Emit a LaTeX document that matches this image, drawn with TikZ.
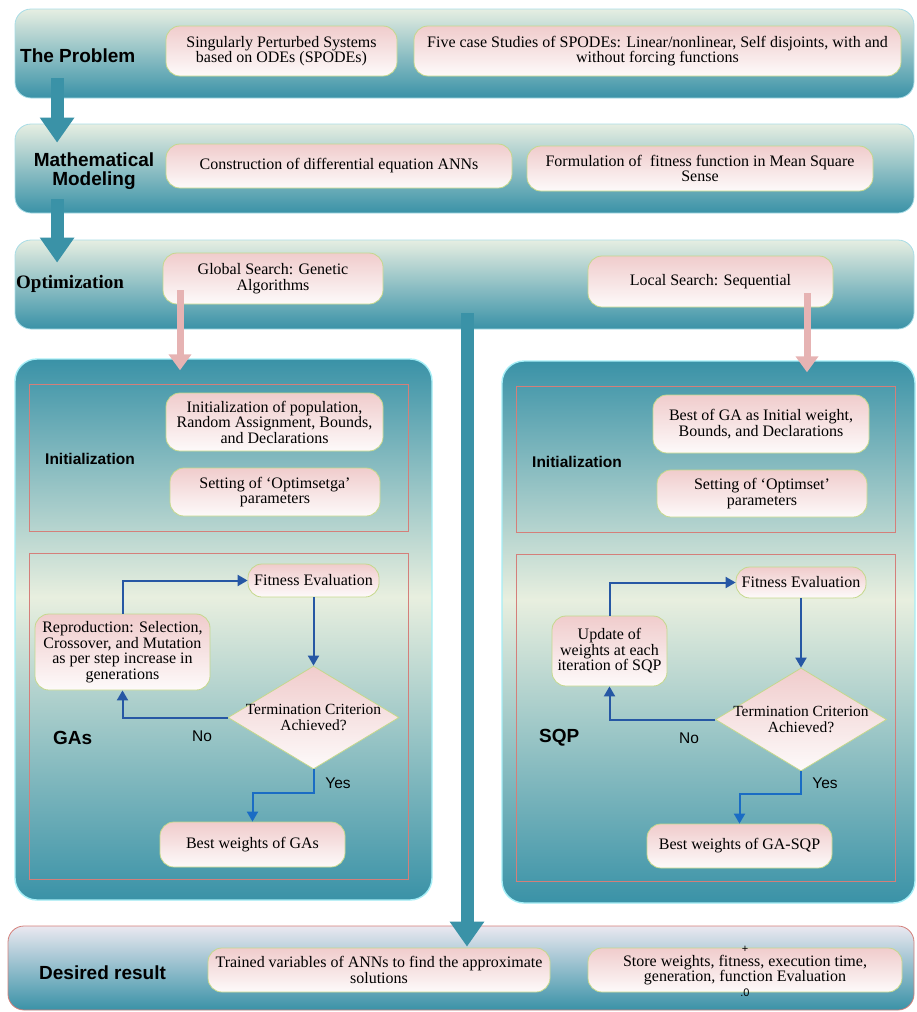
\documentclass[tikz,border=0pt]{standalone}
\usepackage{fontspec}
\setmainfont{Liberation Serif}
\setsansfont{Liberation Sans}
\usetikzlibrary{shapes.geometric,arrows.meta}

\definecolor{bandtop}{HTML}{E6EEE2}
\definecolor{tealband}{HTML}{3A92A7}
\definecolor{bandline}{HTML}{A8DCE6}
\definecolor{panelline}{HTML}{A6EEF6}
\definecolor{paleband}{HTML}{E8EFDF}
\definecolor{lavtop}{HTML}{EAE8F0}
\definecolor{pinktop}{HTML}{F0CCCC}
\definecolor{pinkbot}{HTML}{FDFAFA}
\definecolor{boxline}{HTML}{C5D88C}
\definecolor{redline}{HTML}{D47F7A}
\definecolor{loopblue}{HTML}{2657A4}
\definecolor{yesblue}{HTML}{1A6CC4}
\definecolor{pinkarrow}{HTML}{E6B3B3}

\pgfdeclareverticalshading{panelshade}{100bp}{color(0bp)=(tealband); color(25bp)=(tealband); color(53bp)=(paleband); color(75bp)=(tealband); color(100bp)=(tealband)}

\newcommand{\boxfont}{\fontsize{16}{15.5}\selectfont}
\newcommand{\testfont}{\fontsize{15.5}{15.5}\selectfont}
\newcommand{\headfont}{\sffamily\bfseries\fontsize{19}{19}\selectfont}
\newcommand{\subfont}{\sffamily\bfseries\fontsize{15.5}{16}\selectfont}
\newcommand{\yesnofont}{\sffamily\fontsize{15.5}{16}\selectfont}

\begin{document}
\begin{tikzpicture}[
    x=1pt, y=-1pt,
    band/.style={rectangle, rounded corners=16pt, draw=bandline, line width=0.8pt, top color=bandtop, bottom color=tealband},
    result/.style={band, draw=redline, top color=lavtop},
    panel/.style={rectangle, rounded corners=22pt, draw=panelline, line width=1.4pt, shading=panelshade},
    stage/.style={rectangle, draw=redline, line width=0.8pt},
    box/.style={rectangle, rounded corners=14pt, draw=boxline, line width=0.8pt, top color=pinktop, bottom color=pinkbot, align=center, inner sep=2pt, font=\boxfont},
    test/.style={diamond, draw=boxline, line width=0.8pt, top color=pinktop, bottom color=pinkbot, inner sep=0pt, minimum width=171pt, minimum height=103pt},
    testtext/.style={align=center, inner sep=0pt, font=\testfont},
    head/.style={align=center, inner sep=0pt, font=\headfont},
    sub/.style={inner sep=0pt, font=\subfont},
    yesno/.style={inner sep=0pt, font=\yesnofont},
    bigarrow/.style={-{Triangle[width=33pt,length=25pt]}, line width=13pt, draw=tealband},
    droparrow/.style={-{Triangle[width=22pt,length=16pt]}, line width=7pt, draw=pinkarrow},
    loop/.style={-{Triangle[width=11pt,length=10pt]}, line width=2pt, draw=loopblue},
    yes/.style={loop, draw=yesblue}
]
    \useasboundingbox (0,0) rectangle (916,1012);

    \node[band, minimum width=899pt, minimum height=89pt] (prob) at (464.5,53.5) {};
    \node[band, minimum width=899pt, minimum height=89pt] (model) at (464.5,168.5) {};
    \node[band, minimum width=899pt, minimum height=89pt] (optim) at (464.5,284.5) {};
    \node[result, minimum width=906pt, minimum height=84pt] (res) at (461,968) {};

    \node[head, anchor=west] (probl) at (20,56) {The Problem};
    \node[head] (modell) at (94,171) {Mathematical\\Modeling};
    \node[head, anchor=west, font=\rmfamily\bfseries\fontsize{19}{19}\selectfont] (optiml) at (16,284) {Optimization};
    \node[head, anchor=west] (resl) at (39,973) {Desired result};

    \node[box, minimum width=231pt, minimum height=50pt] (spodes) at (281.5,51) {Singularly Perturbed Systems\\based on ODEs (SPODEs)};
    \node[box, minimum width=487pt, minimum height=50pt] (cases) at (657.5,51) {Five case Studies of SPODEs: Linear/nonlinear, Self disjoints, with and\\without forcing functions};
    \node[box, minimum width=346pt, minimum height=44pt] (constr) at (339,166) {Construction of differential equation ANNs};
    \node[box, minimum width=346pt, minimum height=45pt] (fitfun) at (700,168.5) {Formulation of \ fitness function in Mean Square\\Sense};
    \node[box, minimum width=220pt, minimum height=51pt] (glob) at (273,278.5) {Global Search: Genetic\\Algorithms};
    \node[box, minimum width=245pt, minimum height=51pt] (loc) at (710.5,281.5) {Local Search: Sequential};

    \node[panel, minimum width=417pt, minimum height=541pt] (gapanel) at (223.5,629.5) {};
    \node[panel, minimum width=413pt, minimum height=542pt] (sqpanel) at (708.5,632) {};
    \node[stage, minimum width=379pt, minimum height=147pt] (gainitst) at (218.5,457.5) {};
    \node[stage, minimum width=379pt, minimum height=326pt] (gaprocst) at (218.5,716) {};
    \node[stage, minimum width=379pt, minimum height=146pt] (sqinitst) at (705.5,459) {};
    \node[stage, minimum width=379pt, minimum height=327pt] (sqprocst) at (705.5,717.5) {};

    \node[sub, anchor=west] (gainitl) at (45,459) {Initialization};
    \node[sub, anchor=west] (sqinitl) at (532,462) {Initialization};
    \node[head, anchor=west] (gal) at (53,738) {GAs};
    \node[head, anchor=west] (sql) at (539,738) {SQP};

    \node[box, minimum width=217pt, minimum height=58pt] (gainit) at (274.5,422) {Initialization of population,\\Random Assignment, Bounds,\\and Declarations};
    \node[box, minimum width=210pt, minimum height=48pt] (gaset) at (275,492) {Setting of `Optimsetga'\\parameters};
    \node[box, minimum width=131pt, minimum height=33pt] (gafit) at (313.5,580.5) {Fitness Evaluation};
    \node[box, minimum width=175pt, minimum height=76pt] (garep) at (122.5,652) {Reproduction: Selection,\\Crossover, and Mutation\\as per step increase in\\generations};
    \node[test] (gaterm) at (313.5,717.5) {};
    \node[testtext] (gatermt) at (gaterm) {Termination Criterion\\Achieved?};
    \node[box, minimum width=185pt, minimum height=45pt] (gabest) at (252.5,844.5) {Best weights of GAs};
    \node[yesno] (gano) at (202,736) {No};
    \node[yesno] (gayes) at (338,783) {Yes};

    \node[box, minimum width=216pt, minimum height=58pt] (sqinit) at (761,424) {Best of GA as Initial weight,\\Bounds, and Declarations};
    \node[box, minimum width=210pt, minimum height=47pt] (sqset) at (762,493.5) {Setting of `Optimset'\\parameters};
    \node[box, minimum width=130pt, minimum height=31pt] (sqfit) at (801,582.5) {Fitness Evaluation};
    \node[box, minimum width=115pt, minimum height=70pt] (squpd) at (609.5,651) {Update of\\weights at each\\iteration of SQP};
    \node[test] (sqterm) at (801,719.5) {};
    \node[testtext] (sqtermt) at (sqterm) {Termination Criterion\\Achieved?};
    \node[box, minimum width=185pt, minimum height=44pt] (sqbest) at (739.5,846) {Best weights of GA-SQP};
    \node[yesno] (sqno) at (689,738) {No};
    \node[yesno] (sqyes) at (825,783) {Yes};

    \node[box, minimum width=342pt, minimum height=44pt] (trained) at (379,970) {Trained variables of ANNs to find the approximate\\solutions};
    \node[box, minimum width=314pt, minimum height=44pt] (store) at (745,970) {Store weights, fitness, execution time,\\generation, function Evaluation};
    \node[yesno, font=\sffamily\fontsize{11}{11}\selectfont] (plus) at (745,949) {+};
    \node[yesno, font=\sffamily\fontsize{11}{11}\selectfont] (zero) at (745,993) {.0};

    \draw[loop] (garep.north) |- (gafit.west);
    \draw[loop] (gafit.south) -- (gaterm.north);
    \draw[loop] (gaterm.west) -| (garep.south);
    \draw[yes] (gaterm.south) -- ++(0,24) -| (gabest.north);
    \draw[loop] (squpd.north) |- (sqfit.west);
    \draw[loop] (sqfit.south) -- (sqterm.north);
    \draw[loop] (sqterm.west) -| (squpd.south);
    \draw[yes] (sqterm.south) -- ++(0,23) -| (sqbest.north);

    \draw[bigarrow] ([shift={(42.5,-20)}]prob.south west) -- ([shift={(42.5,19)}]model.north west);
    \draw[bigarrow] ([shift={(42.5,-14)}]model.south west) -- ([shift={(42.5,23)}]optim.north west);
    \draw[droparrow] ([shift={(-93,-14)}]glob.south) -- ([shift={(-43.5,12)}]gapanel.north);
    \draw[droparrow] ([shift={(96.5,-14)}]loc.south) -- ([shift={(98.5,12)}]sqpanel.north);
    \draw[bigarrow] ([shift={(2.5,-16)}]optim.south) -- ([shift={(6,21)}]res.north);
\end{tikzpicture}
\end{document}
